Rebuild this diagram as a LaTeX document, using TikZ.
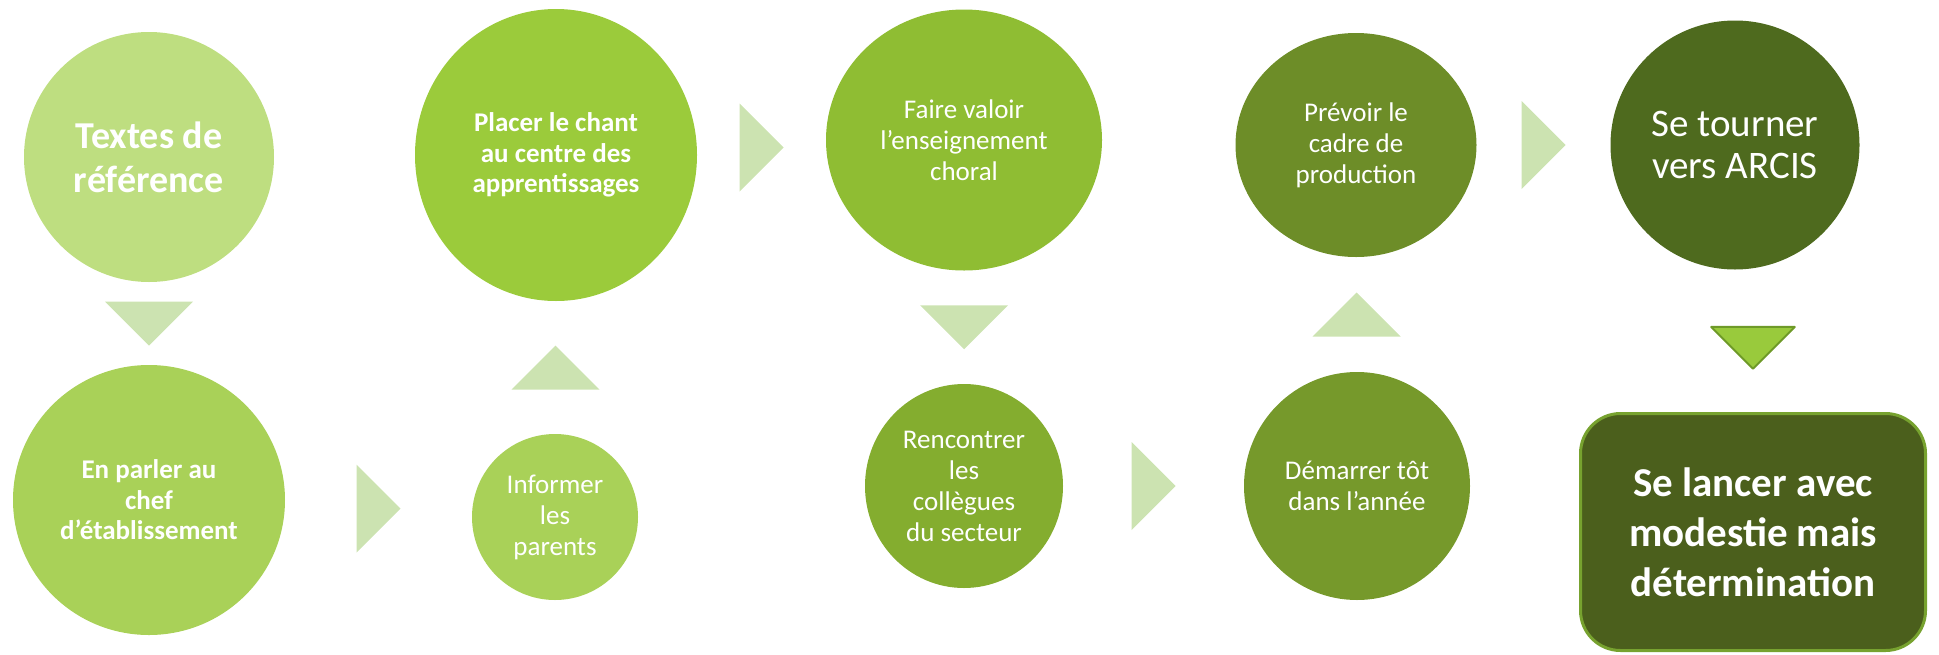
\documentclass[tikz,border=0pt]{standalone}
\usepackage{fontspec}
\setmainfont{Carlito}
\usetikzlibrary{shapes.geometric,calc}
\definecolor{stepa}{HTML}{BEDE80}
\definecolor{stepb}{HTML}{A9D158}
\definecolor{stepc}{HTML}{9BCB3B}
\definecolor{stepd}{HTML}{8FBD33}
\definecolor{stepe}{HTML}{84AD2F}
\definecolor{stepf}{HTML}{76992B}
\definecolor{stepg}{HTML}{6D8D28}
\definecolor{steph}{HTML}{4E6A1E}
\definecolor{boxfill}{HTML}{4B5F1C}
\definecolor{boxline}{HTML}{77A22F}
\definecolor{chevfill}{HTML}{CCE3B1}
\definecolor{lastfill}{HTML}{99CA3C}
\definecolor{lastline}{HTML}{6E9A28}
\tikzset{
  chevron/.pic={\path[pic actions] (-22,-44) -- (22,0) -- (-22,44) -- cycle;}
}
\begin{document}
\begin{tikzpicture}[x=1pt, y=-1pt,
    stepcircle/.style={ellipse, fill=#1, text=white, align=center, inner sep=0pt, outer sep=0pt},
    txtsmall/.style={font=\fontsize{27}{31}\selectfont},
    txtbold/.style={font=\bfseries\fontsize{27}{30.5}\selectfont},
    txtlarge/.style={font=\fontsize{39}{42}\selectfont}]
  \useasboundingbox (0,0) rectangle (1939,654);

  % First column
  \node[stepcircle=stepa, minimum width=250, minimum height=250, font=\bfseries\fontsize{38}{44}\selectfont] (refs) at (149,157) {Textes de\\référence};
  \node[stepcircle=stepb, minimum width=272, minimum height=270, txtbold] (chef) at (149,500) {En parler au\\chef\\d’établissement};

  % Second column
  \node[stepcircle=stepb, minimum width=166, minimum height=166, txtsmall] (parents) at (555,517) {Informer\\les\\parents};
  \node[stepcircle=stepc, minimum width=282, minimum height=292, txtbold] (chant) at (556,155) {Placer le chant\\au centre des\\apprentissages};

  % Third column
  \node[stepcircle=stepd, minimum width=276, minimum height=261, txtsmall] (choral) at (964,140) {Faire valoir\\l’enseignement\\choral};
  \node[stepcircle=stepe, minimum width=198, minimum height=204, txtsmall] (secteur) at (964,486) {Rencontrer\\les\\collègues\\du secteur};

  % Fourth column
  \node[stepcircle=stepf, minimum width=226, minimum height=228, txtsmall] (annee) at (1357,486) {Démarrer tôt\\dans l’année};
  \node[stepcircle=stepg, minimum width=241, minimum height=224, txtsmall] (cadre) at (1356,145) {Prévoir le\\cadre de\\production};

  % Last column
  \node[stepcircle=steph, minimum width=249, minimum height=249, txtlarge] (arcis) at (1735,145) {Se tourner\\vers ARCIS};
  \node[rectangle, rounded corners=40pt, fill=boxfill, draw=boxline, line width=3pt, minimum width=345, minimum height=237,
        text=white, align=center, font=\bfseries\fontsize{41}{50}\selectfont] (lancer) at (1753,532)
    {Se lancer avec\\modestie mais\\détermination};

  % Chevrons between the steps
  \pic[rotate=-90, fill=chevfill] at ($(refs.south)!0.5!(chef.north)$) {chevron};
  \pic[fill=chevfill] at ($(chef.east)!0.5!(parents.west)$) {chevron};
  \pic[rotate=90, fill=chevfill] at ($(parents.north)!0.5!(chant.south)$) {chevron};
  \pic[fill=chevfill] at ($(chant.east)!0.5!(choral.west)$) {chevron};
  \pic[rotate=-90, fill=chevfill] at ($(choral.south)!0.5!(secteur.north)$) {chevron};
  \pic[fill=chevfill] at ($(secteur.east)!0.5!(annee.west)$) {chevron};
  \pic[rotate=90, fill=chevfill] at ($(annee.north)!0.5!(cadre.south)$) {chevron};
  \pic[fill=chevfill] at ($(cadre.east)!0.5!(arcis.west)$) {chevron};
  \coordinate (lastmid) at ($(arcis.south)!0.55!(lancer.north)$);
  \pic[rotate=-90, scale=0.95, fill=lastfill, draw=lastline, line width=2pt, line join=round] at (lancer.north |- lastmid) {chevron};
\end{tikzpicture}
\end{document}
